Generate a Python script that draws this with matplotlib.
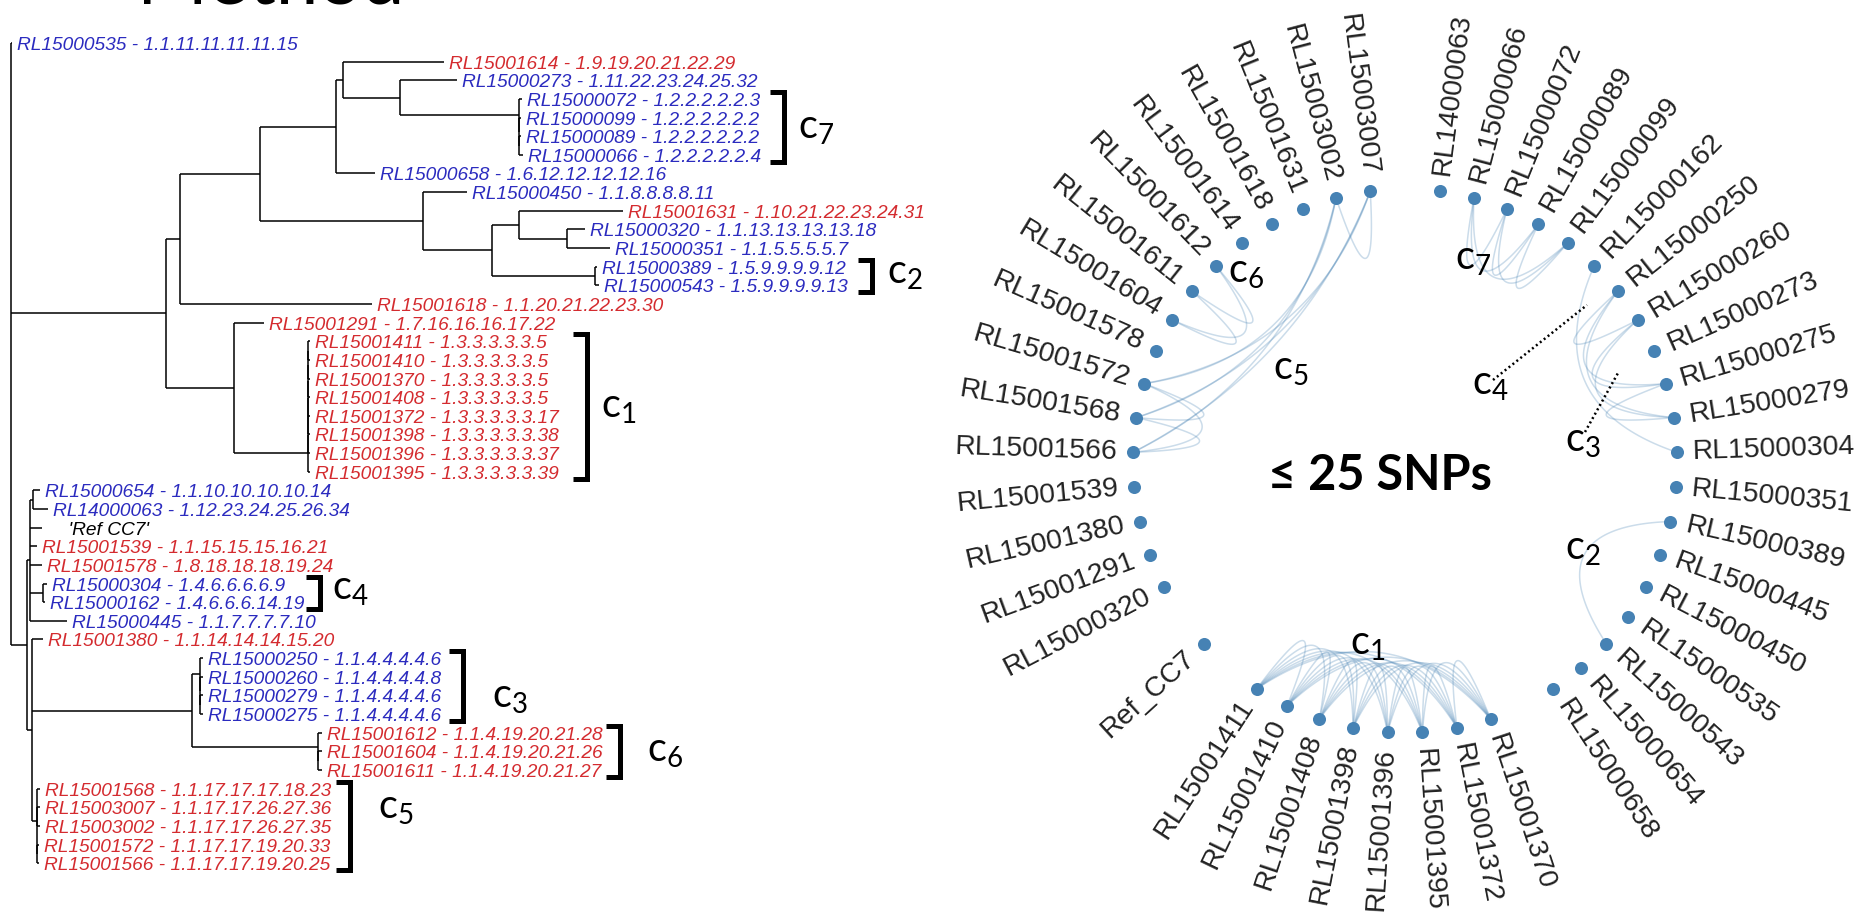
import numpy as np
import matplotlib
matplotlib.use('Agg')
import matplotlib.pyplot as plt
from itertools import combinations

plt.rcParams['mathtext.fontset'] = 'custom'
plt.rcParams['mathtext.rm'] = 'Lato'
plt.rcParams['mathtext.it'] = 'Lato:italic'
plt.rcParams['mathtext.bf'] = 'Lato:bold'

W, H = 1861, 913

################ tree (left) ################
# sub-trees, branch lengths
c7_tree = "(RL15000072:3,(RL15000099:2,(RL15000089:2,RL15000066:4):0):0)"
c2_tree = "(RL15000389:2,RL15000543:4)"
c1_tree = ("(((((((RL15001411:2,RL15001410:2):0,RL15001370:2):0,RL15001408:2):0,"
           "RL15001372:2):0,RL15001398:2):0,RL15001396:2):0,RL15001395:2)")
c4_tree = "(RL15000304:4,RL15000162:2)"
c3_tree = "(RL15000250:3,(RL15000260:3,(RL15000279:3,RL15000275:3):0):0)"
c6_tree = "(RL15001612:4,(RL15001604:4,RL15001611:4):0)"
c5_tree = "(RL15001568:3,(RL15003007:3,RL15003002:3):0,(RL15001572:2,RL15001566:2):0)"

a5 = "(RL15000273:57," + c7_tree + ":119)"
a4 = "(RL15001614:101," + a5 + ":57)"
a3 = "(" + a4 + ":7,RL15000658:39)"
a_low = ("(RL15000450:44,((RL15001631:104,(RL15000320:18,RL15000351:43):48):27,"
         + c2_tree + ":103):69)")
a2 = "(" + a3 + ":76," + a_low + ":163)"
a1 = "(" + a2 + ":80,RL15001618:192)"
a_c1 = "(RL15001291:30," + c1_tree + ":74)"
clade_a = "(" + a1 + ":14," + a_c1 + ":68)"
b1 = ("((RL15000654:7,RL14000063:15):3,'Ref CC7':12,RL15001539:7,RL15001578:12,"
      + c4_tree + ":13,RL15000445:37)")
b2 = "(RL15001380:11,(" + c3_tree + ":8," + c6_tree + ":126):160," + c5_tree + ":5)"
clade_b = "(" + b1 + ":3," + b2 + ":5)"
newick = "(RL15000535:1," + clade_a + ":155," + clade_b + ":16);"

genotype = {
    'RL15000535': '1.1.11.11.11.11.15', 'RL15001614': '1.9.19.20.21.22.29',
    'RL15000273': '1.11.22.23.24.25.32', 'RL15000072': '1.2.2.2.2.2.3',
    'RL15000099': '1.2.2.2.2.2.2', 'RL15000089': '1.2.2.2.2.2.2',
    'RL15000066': '1.2.2.2.2.2.4', 'RL15000658': '1.6.12.12.12.12.16',
    'RL15000450': '1.1.8.8.8.8.11', 'RL15001631': '1.10.21.22.23.24.31',
    'RL15000320': '1.1.13.13.13.13.18', 'RL15000351': '1.1.5.5.5.5.7',
    'RL15000389': '1.5.9.9.9.9.12', 'RL15000543': '1.5.9.9.9.9.13',
    'RL15001618': '1.1.20.21.22.23.30', 'RL15001291': '1.7.16.16.16.17.22',
    'RL15001411': '1.3.3.3.3.3.5', 'RL15001410': '1.3.3.3.3.3.5',
    'RL15001370': '1.3.3.3.3.3.5', 'RL15001408': '1.3.3.3.3.3.5',
    'RL15001372': '1.3.3.3.3.3.17', 'RL15001398': '1.3.3.3.3.3.38',
    'RL15001396': '1.3.3.3.3.3.37', 'RL15001395': '1.3.3.3.3.3.39',
    'RL15000654': '1.1.10.10.10.10.14', 'RL14000063': '1.12.23.24.25.26.34',
    'RL15001539': '1.1.15.15.15.16.21', 'RL15001578': '1.8.18.18.18.19.24',
    'RL15000304': '1.4.6.6.6.6.9', 'RL15000162': '1.4.6.6.6.14.19',
    'RL15000445': '1.1.7.7.7.7.10', 'RL15001380': '1.1.14.14.14.15.20',
    'RL15000250': '1.1.4.4.4.4.6', 'RL15000260': '1.1.4.4.4.4.8',
    'RL15000279': '1.1.4.4.4.4.6', 'RL15000275': '1.1.4.4.4.4.6',
    'RL15001612': '1.1.4.19.20.21.28', 'RL15001604': '1.1.4.19.20.21.26',
    'RL15001611': '1.1.4.19.20.21.27', 'RL15001568': '1.1.17.17.17.18.23',
    'RL15003007': '1.1.17.17.26.27.36', 'RL15003002': '1.1.17.17.26.27.35',
    'RL15001572': '1.1.17.17.19.20.33', 'RL15001566': '1.1.17.17.19.20.25',
}

# clusters marked with brackets in the tree: (index, first leaf, last leaf)
tree_clusters = [('7', 'RL15000072', 'RL15000066'), ('2', 'RL15000389', 'RL15000543'),
                 ('1', 'RL15001411', 'RL15001395'), ('4', 'RL15000304', 'RL15000162'),
                 ('3', 'RL15000250', 'RL15000275'), ('6', 'RL15001612', 'RL15001611'),
                 ('5', 'RL15001568', 'RL15001566')]

################ network (right) ################
# circular layout, counter-clockwise from the top, None = empty slot
circle_order = [None, 'RL15003007', 'RL15003002', 'RL15001631', 'RL15001618', 'RL15001614',
                'RL15001612', 'RL15001611', 'RL15001604', 'RL15001578', 'RL15001572',
                'RL15001568', 'RL15001566', 'RL15001539', 'RL15001380', 'RL15001291',
                'RL15000320', None, 'Ref_CC7', None, 'RL15001411', 'RL15001410',
                'RL15001408', 'RL15001398', 'RL15001396', 'RL15001395', 'RL15001372',
                'RL15001370', None, 'RL15000658', 'RL15000654', 'RL15000543', 'RL15000535',
                'RL15000450', 'RL15000445', 'RL15000389', 'RL15000351', 'RL15000304',
                'RL15000279', 'RL15000275', 'RL15000273', 'RL15000260', 'RL15000250',
                'RL15000162', 'RL15000099', 'RL15000089', 'RL15000072', 'RL15000066',
                'RL14000063']

# groups linked at <= 25 SNPs
snp_groups = {
    '1': ['RL15001411', 'RL15001410', 'RL15001408', 'RL15001398', 'RL15001396',
          'RL15001395', 'RL15001372', 'RL15001370'],
    '2': ['RL15000389', 'RL15000543'],
    '3': ['RL15000250', 'RL15000260', 'RL15000275', 'RL15000279'],
    '4': ['RL15000162', 'RL15000304'],
    '5': ['RL15001572', 'RL15001568', 'RL15001566', 'RL15003002', 'RL15003007'],
    '6': ['RL15001612', 'RL15001611', 'RL15001604'],
    '7': ['RL15000066', 'RL15000072', 'RL15000089', 'RL15000099'],
}

################ style ################
blue = '#2b2bbf'
red = '#d42b2f'
node_color = '#4682b4'
tree_lw = 1.1
bracket_lw = 3.6
leaf_font = 13.75
net_font = 20.4
clab_font = 28.5

tree_x0 = 11
tree_y0 = 43
leaf_step = 18.64

net_cx, net_cy, net_r = 1405, 461, 272
label_gap = 16
ctrl_frac = 0.52

bracket_x = {'7': 784, '2': 872, '1': 587, '4': 320, '3': 463, '6': 620, '5': 350}
tree_clabel = {'7': (798, 139), '2': (887, 284), '1': (601, 418), '4': (332, 600),
               '3': (492, 708), '6': (647, 762), '5': (378, 819)}
net_clabel = {'7': (1455, 270), '6': (1228, 283), '5': (1273, 380), '4': (1472, 395),
              '3': (1565, 452), '2': (1565, 560), '1': (1350, 655)}
leaders = [((1493, 380), (1587, 305)), ((1585, 432), (1618, 373))]


def parse_newick(s):
    pos = 0

    def read_node():
        nonlocal pos
        node = {'children': [], 'name': '', 'length': 0.0}
        if s[pos] == '(':
            pos += 1
            while True:
                node['children'].append(read_node())
                ch = s[pos]
                pos += 1
                if ch == ')':
                    break
        if s[pos] == "'":
            end = s.index("'", pos + 1)
            node['name'] = s[pos + 1:end]
            pos = end + 1
        else:
            start = pos
            while s[pos] not in ':,);':
                pos += 1
            node['name'] = s[start:pos]
        if s[pos] == ':':
            pos += 1
            start = pos
            while s[pos] not in ',);':
                pos += 1
            node['length'] = float(s[start:pos])
        return node

    return read_node()


leaves = []


def layout(node, x):
    node['x'] = x + node['length']
    if not node['children']:
        node['y'] = tree_y0 + len(leaves) * leaf_step
        leaves.append(node)
    else:
        for c in node['children']:
            layout(c, node['x'])
        node['y'] = (node['children'][0]['y'] + node['children'][-1]['y']) / 2


def draw_tree(node):
    if not node['children']:
        return
    ys = [c['y'] for c in node['children']]
    ax.plot([node['x'], node['x']], [min(ys), max(ys)], color='black', lw=tree_lw,
            solid_capstyle='butt')
    for c in node['children']:
        ax.plot([node['x'], c['x']], [c['y'], c['y']], color='black', lw=tree_lw,
                solid_capstyle='butt')
        draw_tree(c)


fig = plt.figure(figsize=(W / 100, H / 100), dpi=100)
ax = fig.add_axes([0, 0, 1, 1])
ax.set_xlim(0, W)
ax.set_ylim(H, 0)
ax.axis('off')

# cut-off heading at the very top
ax.text(137, 4, 'Method', fontsize=55, family='Lato', ha='left', va='baseline')

tree = parse_newick(newick)
layout(tree, tree_x0 - tree['length'])
draw_tree(tree)

leaf_y = {}
for lf in leaves:
    name = lf['name']
    leaf_y[name] = lf['y']
    if name in genotype:
        txt = name + ' - ' + genotype[name]
        col = red if name.startswith(('RL15001', 'RL15003')) else blue
    else:
        txt = "    '" + name + "'"
        col = 'black'
    ax.text(lf['x'] + 5, lf['y'] + 7, txt, fontsize=leaf_font, family='Liberation Sans',
            style='italic', color=col, ha='left', va='baseline')

for idx, first, last in tree_clusters:
    y0, y1 = leaf_y[first] - 7, leaf_y[last] + 7
    xb = bracket_x[idx]
    ax.plot([xb - 14, xb, xb, xb - 14], [y0, y0, y1, y1], color='black', lw=bracket_lw,
            solid_joinstyle='miter', solid_capstyle='butt')
    lx, ly = tree_clabel[idx]
    ax.text(lx, ly, 'c$_{' + idx + '}$', fontsize=clab_font, family='Lato',
            ha='left', va='baseline')

# network
step = 360.0 / len(circle_order)
node_pos = {}
node_ang = {}
for k, name in enumerate(circle_order):
    if name is None:
        continue
    a = np.deg2rad(90 + k * step)
    node_ang[name] = k
    node_pos[name] = np.array([net_cx + net_r * np.cos(a), net_cy - net_r * np.sin(a)])

t = np.linspace(0, 1, 60)[:, None]
for idx, members in snp_groups.items():
    for u, v in combinations(members, 2):
        p0, p2 = node_pos[u], node_pos[v]
        am = np.deg2rad(90 + (node_ang[u] + node_ang[v]) / 2 * step)
        c = np.array([net_cx + ctrl_frac * net_r * np.cos(am),
                      net_cy - ctrl_frac * net_r * np.sin(am)])
        curve = (1 - t) ** 2 * p0 + 2 * (1 - t) * t * c + t ** 2 * p2
        ax.plot(curve[:, 0], curve[:, 1], color=node_color, alpha=0.28, lw=1.1, zorder=1)

xs = [p[0] for p in node_pos.values()]
ys = [p[1] for p in node_pos.values()]
ax.plot(xs, ys, 'o', ms=9.4, color=node_color, mec='none', zorder=3)

for name, k in node_ang.items():
    deg = 90 + k * step
    a = np.deg2rad(deg)
    lx = net_cx + (net_r + label_gap) * np.cos(a)
    ly = net_cy - (net_r + label_gap) * np.sin(a)
    if np.cos(a) >= 0:
        rot, ha = deg, 'left'
    else:
        rot, ha = deg - 180, 'right'
    ax.text(lx, ly, name, fontsize=net_font, family='Liberation Sans', color='#222222',
            rotation=rot, rotation_mode='anchor', ha=ha, va='center')

for idx, (lx, ly) in net_clabel.items():
    ax.text(lx, ly, 'c$_{' + idx + '}$', fontsize=clab_font, family='Lato',
            ha='left', va='baseline')

for (x0, y0), (x1, y1) in leaders:
    ax.plot([x0, x1], [y0, y1], color='black', lw=1.8, linestyle=(0, (0.8, 1.2)))

ax.text(1380, 490, '\u2264 25 SNPs', fontsize=35, family=['Lato', 'DejaVu Sans'],
        weight='bold', ha='center', va='baseline')

fig.savefig('out.png', dpi=100)
